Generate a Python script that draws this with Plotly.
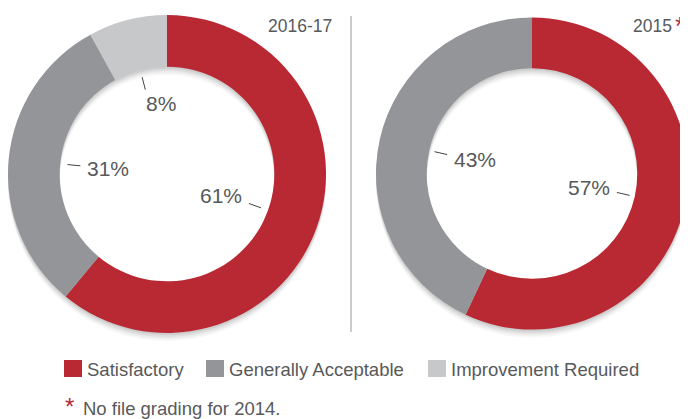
import math
import plotly.graph_objects as go

# --- Data ---
categories = ["Satisfactory", "Generally Acceptable", "Improvement Required"]
colors = ["#B82933", "#939598", "#C7C8CA"]

period_2016 = "2016-17"
values_2016 = [61, 31, 8]

period_2015 = "2015"
values_2015 = [57, 43, 0]

footnote = "No file grading for 2014."

# page body has an 8px margin, so the figure is a bit smaller than the window
OFF = 8
W, H = 680, 411
TEXT = "#58595B"
FONT = "Liberation Sans"
HOLE = 0.675


def px(x, y):
    """window pixel position -> paper coords"""
    return (x - OFF) / W, 1 - (y - OFF) / H


def donut(cx, cy, r, values, name, shadow=None):
    x0, y1 = px(cx - r, cy - r)
    x1, y0 = px(cx + r, cy + r)
    if shadow is not None:
        marker = dict(colors=["rgba(40,40,40,%.3f)" % shadow] * len(values))
    else:
        marker = dict(colors=colors)
    return go.Pie(
        labels=categories, values=values, name=name,
        marker=marker, hole=HOLE, sort=False, direction="clockwise", rotation=0,
        textinfo="none", hoverinfo="skip" if shadow is not None else "label+percent",
        domain=dict(x=[max(x0, 0), min(x1, 1)], y=[max(y0, 0), y1]),
    )


def leader_labels(cx, cy, values):
    """short radial ticks just inside the hole plus percentage text"""
    shapes, annos = [], []
    total = float(sum(values))
    acc = 0
    for v in values:
        if v <= 0:
            continue
        mid = (acc + v / 2) / total * 2 * math.pi
        acc += v
        dx, dy = math.sin(mid), -math.cos(mid)
        ax0, ay0 = px(cx + 87 * dx, cy + 87 * dy)
        ax1, ay1 = px(cx + 100 * dx, cy + 100 * dy)
        shapes.append(dict(type="line", xref="paper", yref="paper",
                           x0=ax0, y0=ay0, x1=ax1, y1=ay1,
                           line=dict(color="#444", width=1)))
        if abs(dx) >= abs(dy):
            tx, ty = px(cx + 82 * dx, cy + 62 * dy)
            yanchor = "middle"
        else:
            tx, ty = px(cx + 82 * dx - 3, cy + 82 * dy - 5 * (1 if dy < 0 else -1))
            yanchor = "top" if dy < 0 else "bottom"
        annos.append(dict(x=tx, y=ty, xref="paper", yref="paper",
                          text=f"{v}%", showarrow=False,
                          xanchor="left" if dx < 0 else "right", yanchor=yanchor,
                          font=dict(size=21, color=TEXT, family=FONT)))
    return shapes, annos


def label(x, y, text, size, color=TEXT, xanchor="left"):
    lx, ly = px(x, y)
    return dict(x=lx, y=ly, xref="paper", yref="paper", text=text, showarrow=False,
                xanchor=xanchor, yanchor="middle",
                font=dict(size=size, color=color, family=FONT))


rings = [(167, 174, 159, values_2016, period_2016),
         (532, 173.5, 156, values_2015, period_2015)]

fig = go.Figure()
# soft drop shadow: a few faint rings nudged downwards
for cx, cy, r, vals, name in rings:
    for off, a in [(8, 0.04), (6, 0.05), (4, 0.07), (2, 0.09)]:
        fig.add_trace(donut(cx, cy + off, r, vals, name, shadow=a))
for cx, cy, r, vals, name in rings:
    fig.add_trace(donut(cx, cy, r, vals, name))

shapes, annos = [], []
for cx, cy, r, vals, name in rings:
    s, a = leader_labels(cx, cy, vals)
    shapes += s
    annos += a

# divider
dx0, dy0 = px(351, 16)
dx1, dy1 = px(351, 332)
shapes.append(dict(type="line", xref="paper", yref="paper", x0=dx0, y0=dy0, x1=dx1, y1=dy1,
                   line=dict(color="#A7A9AC", width=1.2)))

# period titles
annos.append(label(334, 26, period_2016, 17.5, xanchor="right"))
annos.append(label(674, 26, period_2015, 17.5, xanchor="right"))
annos.append(label(687, 26, "*", 26, color=colors[0], xanchor="right"))

# legend (custom, square swatches)
legend_x = [64, 206, 428]
for lx, lab, col in zip(legend_x, categories, colors):
    x0, y0 = px(lx, 377)
    x1, y1 = px(lx + 18, 360)
    shapes.append(dict(type="rect", xref="paper", yref="paper", x0=x0, y0=y0, x1=x1, y1=y1,
                       fillcolor=col, line=dict(width=0)))
    annos.append(label(lx + 21, 369, lab, 18.5))

# footnote
annos.append(label(63, 406, "*", 24, color=colors[0]))
annos.append(label(81, 408, footnote, 18.5))

fig.update_layout(
    width=W, height=H, margin=dict(l=0, r=0, t=0, b=0),
    showlegend=False, paper_bgcolor="white", plot_bgcolor="white",
    shapes=shapes, annotations=annos,
)

fig.write_html("out.html")
